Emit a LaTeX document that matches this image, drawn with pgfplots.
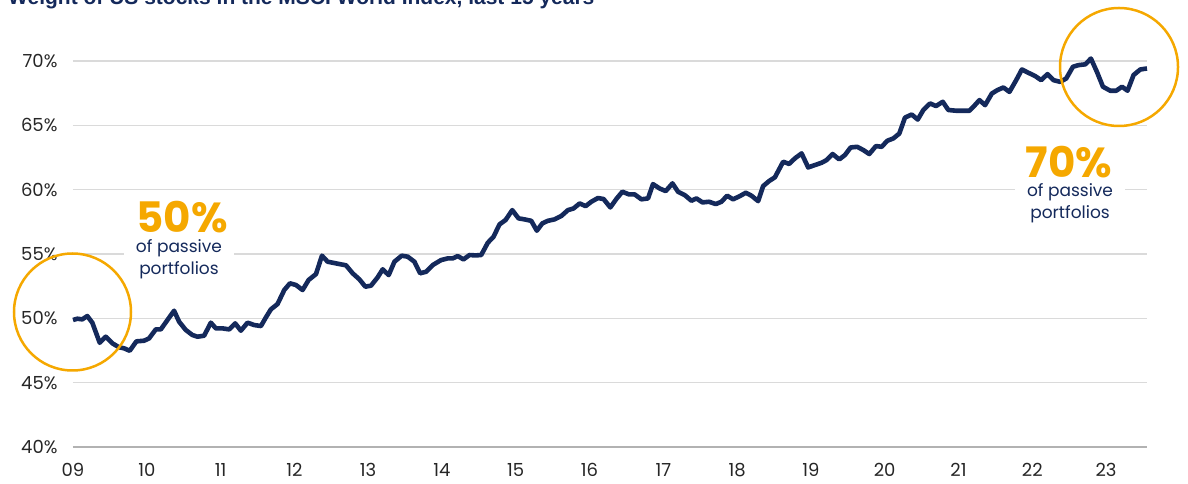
\documentclass[border=0pt]{standalone}
\usepackage{fontspec}
\setmainfont{Poppins}
\newfontfamily\titlefont{Liberation Sans}
\usepackage{pgfplots}
\pgfplotsset{compat=1.18}
\definecolor{navy}{HTML}{14295B}
\definecolor{gold}{HTML}{F5A800}
\definecolor{gridc}{HTML}{DADADA}
\pgfplotstableread{
t v
0.000 49.87
0.058 49.97
0.126 49.92
0.194 50.18
0.262 49.66
0.362 48.10
0.444 48.57
0.533 48.06
0.624 47.75
0.692 47.67
0.769 47.48
0.859 48.21
0.963 48.26
1.031 48.44
1.122 49.14
1.190 49.14
1.280 49.87
1.370 50.59
1.438 49.74
1.529 49.09
1.619 48.70
1.687 48.57
1.777 48.65
1.868 49.66
1.936 49.22
2.026 49.22
2.117 49.14
2.198 49.61
2.275 49.04
2.365 49.66
2.456 49.48
2.547 49.40
2.615 50.08
2.682 50.70
2.772 51.11
2.863 52.20
2.940 52.72
3.022 52.59
3.111 52.20
3.193 52.98
3.293 53.44
3.374 54.87
3.451 54.40
3.564 54.27
3.700 54.12
3.790 53.50
3.881 53.03
3.962 52.46
4.039 52.54
4.129 53.19
4.197 53.81
4.278 53.36
4.356 54.40
4.455 54.87
4.536 54.79
4.627 54.40
4.704 53.50
4.786 53.62
4.875 54.14
4.989 54.53
5.079 54.66
5.147 54.66
5.214 54.84
5.292 54.58
5.373 54.92
5.455 54.89
5.532 54.92
5.621 55.87
5.699 56.34
5.780 57.30
5.862 57.64
5.953 58.41
6.038 57.77
6.119 57.69
6.210 57.58
6.286 56.81
6.360 57.38
6.436 57.58
6.526 57.69
6.617 57.95
6.707 58.41
6.784 58.54
6.866 58.93
6.947 58.72
7.024 59.06
7.114 59.35
7.191 59.27
7.282 58.62
7.364 59.28
7.445 59.84
7.535 59.63
7.612 59.63
7.703 59.25
7.793 59.32
7.860 60.43
7.951 60.09
8.033 59.89
8.124 60.49
8.199 59.84
8.290 59.58
8.381 59.14
8.449 59.32
8.531 59.01
8.620 59.06
8.711 58.88
8.788 59.06
8.864 59.53
8.946 59.25
9.037 59.50
9.118 59.76
9.195 59.53
9.285 59.11
9.353 60.28
9.434 60.67
9.512 60.96
9.624 62.17
9.706 62.00
9.783 62.43
9.874 62.82
9.963 61.73
10.054 61.91
10.145 62.09
10.213 62.30
10.294 62.77
10.384 62.35
10.461 62.69
10.539 63.28
10.628 63.33
10.710 63.08
10.791 62.77
10.882 63.39
10.959 63.33
11.035 63.80
11.117 63.98
11.198 64.36
11.275 65.60
11.366 65.84
11.448 65.45
11.524 66.19
11.615 66.70
11.696 66.50
11.787 66.83
11.863 66.19
11.977 66.13
12.067 66.13
12.148 66.13
12.202 66.44
12.284 66.96
12.361 66.57
12.452 67.47
12.528 67.74
12.609 67.94
12.691 67.60
12.782 68.51
12.859 69.34
12.949 69.08
13.039 68.83
13.121 68.51
13.206 68.98
13.288 68.51
13.379 68.38
13.460 68.64
13.551 69.55
13.627 69.68
13.718 69.74
13.795 70.19
13.876 69.16
13.958 68.00
14.057 67.69
14.138 67.69
14.216 68.00
14.291 67.69
14.373 68.91
14.464 69.34
14.555 69.42
}\weight

\begin{document}
\begin{tikzpicture}
\useasboundingbox (-73pt,-37pt) rectangle (1115pt,447pt);
\clip (-73pt,-37pt) rectangle (1115pt,447pt);
\begin{axis}[
  at={(0pt,0pt)}, anchor=south west,
  scale only axis, width=1074pt, height=386pt,
  xmin=0, xmax=14.555, ymin=40, ymax=70,
  clip=false,
  axis line style={draw=none},
  major tick length=0pt,
  ymajorgrids, grid style={gridc, line width=1.2pt},
  xtick={0,...,14},
  xticklabels={09,10,11,12,13,14,15,16,17,18,19,20,21,22,23},
  ytick={40,45,...,70},
  yticklabel={\pgfmathprintnumber{\tick}\%},
  /pgf/number format/assume math mode=true,
  tick label style={font=\fontsize{18}{20}\selectfont, text=black!85},
  xticklabel style={yshift=-13pt},
  yticklabel style={xshift=-12pt},
]
\draw[black!30, line width=1.2pt] (axis cs:0,40) -- (axis cs:14.555,40);
\addplot[navy, line width=4.6pt, line join=round, mark=none] table[x=t, y=v] {\weight};
\end{axis}
% circles
\draw[gold, line width=2.5pt] (-0.5pt,135pt) circle (58.5pt);
\draw[gold, line width=2.5pt] (1046pt,380pt) circle (59pt);
% annotations
\node[fill=white, align=center, text=navy, font=\fontsize{17}{22}\selectfont, inner xsep=12pt, inner ysep=0pt] at (106pt,188pt) {of passive\\portfolios};
\node[text=gold, font=\bfseries\fontsize{42}{44}\selectfont, inner sep=0pt] at (109pt,230pt) {50\%};
\node[fill=white, align=center, text=navy, font=\fontsize{17}{22}\selectfont, inner xsep=12pt, inner ysep=0pt] at (997pt,244pt) {of passive\\portfolios};
\node[text=gold, font=\bfseries\fontsize{42}{44}\selectfont, inner sep=0pt] at (996pt,285pt) {70\%};
% title (cut off at the top as in the source)
\node[anchor=base west, text=navy, font=\titlefont\bfseries\fontsize{21}{24}\selectfont, inner sep=0pt] at (-65pt,442pt) {Weight of US stocks in the MSCI World Index, last 15 years};
\end{tikzpicture}
\end{document}
